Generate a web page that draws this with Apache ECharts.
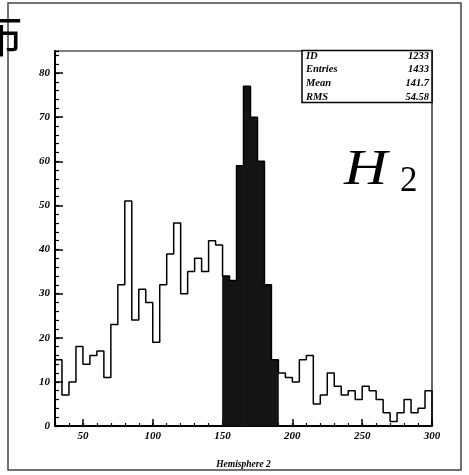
<!DOCTYPE html>
<html>
<head>
<meta charset="utf-8">
<script src="https://cdn.jsdelivr.net/npm/echarts@6/dist/echarts.min.js"></script>
<style>
html,body{margin:0;padding:0;background:#fff;}
#chart{width:469px;height:475px;}
</style>
</head>
<body>
<div id="chart"></div>
<script>
// ---- data ----
var binLow = 30;
var binWidth = 5;
var counts = [15, 7, 10, 18, 14, 16, 17, 11, 23, 32,
              51, 24, 31, 28, 19, 32, 39, 46, 30, 35,
              38, 35, 42, 41, 34, 33, 59, 77, 70, 60,
              32, 15, 12, 11, 10, 15, 16, 5, 7, 12,
              9, 7, 8, 6, 9, 8, 6, 3, 1, 3,
              6, 3, 4, 8];
var filledFrom = 150;
var filledTo = 190;
var xTickLabels = [50, 100, 150, 200, 250, 300];
var yTickLabels = [0, 10, 20, 30, 40, 50, 60, 70, 80];
var statNames = ['ID', 'Entries', 'Mean', 'RMS'];
var statValues = ['1233', '1433', '141.7', '54.58'];
var xTitle = 'Hemisphere 2';
var titleFragment = '布';

// ---- build ----
var edges = counts.map(function (c, i) { return binLow + i * binWidth; });
var xMax = binLow + counts.length * binWidth;
var outline = [[binLow, 0]];
counts.forEach(function (c, i) { outline.push([edges[i], c]); });
outline.push([xMax, counts[counts.length - 1]]);
outline.push([xMax, 0]);

var filledBins = [];
counts.forEach(function (c, i) {
  if (edges[i] >= filledFrom && edges[i] + binWidth <= filledTo) {
    filledBins.push([edges[i], edges[i] + binWidth, c]);
  }
});

var serif = '"Liberation Serif", "Times New Roman", serif';
var lblStyle = { fontFamily: serif, fontStyle: 'italic', fontWeight: 'bold', fontSize: 11, color: '#000' };

var GL = 55, GT = 51, GR = 432, GB = 427.5;

var chart = echarts.init(document.getElementById('chart'), null, { renderer: 'canvas' });

var statGraphics = [];
statGraphics.push({ type: 'rect', shape: { x: 302, y: 50.5, width: 130, height: 52 }, style: { fill: '#fff', stroke: '#000', lineWidth: 1.5 }, z: 10 });
statNames.forEach(function (n, i) {
  statGraphics.push({ type: 'text', x: 306, y: 56 + i * 13.7, z: 11,
    style: { text: n, fontFamily: serif, fontStyle: 'italic', fontWeight: 'bold', fontSize: 10.5, fill: '#000', verticalAlign: 'middle', align: 'left' } });
  statGraphics.push({ type: 'text', x: 429, y: 56 + i * 13.7, z: 11,
    style: { text: statValues[i], fontFamily: serif, fontStyle: 'italic', fontWeight: 'bold', fontSize: 10.5, fill: '#000', verticalAlign: 'middle', align: 'right' } });
});

var option = {
  animation: false,
  backgroundColor: '#fff',
  grid: { left: GL, top: GT, width: GR - GL, height: GB - GT, show: true, borderColor: '#000', borderWidth: 1.2, backgroundColor: 'transparent' },
  xAxis: [{
    type: 'value', min: binLow, max: xMax, gridIndex: 0,
    axisLine: { show: true, onZero: false, lineStyle: { color: '#000', width: 2 } },
    axisTick: { show: true, inside: true, length: 7, lineStyle: { color: '#000', width: 1.5 }, customValues: xTickLabels },
    axisLabel: Object.assign({ margin: 5, customValues: xTickLabels }, lblStyle),
    splitLine: { show: false },
    name: xTitle, nameLocation: 'middle', nameGap: 34,
    nameTextStyle: { fontFamily: serif, fontStyle: 'italic', fontWeight: 'bold', fontSize: 9.5, color: '#000' }
  }, {
    type: 'value', min: binLow, max: xMax, interval: 10, gridIndex: 0, position: 'bottom',
    axisLine: { show: false, onZero: false },
    axisTick: { show: true, inside: true, length: 3, lineStyle: { color: '#000', width: 1.2 } },
    axisLabel: { show: false }, splitLine: { show: false }
  }],
  yAxis: [{
    type: 'value', min: 0, max: 85, gridIndex: 0,
    axisLine: { show: true, onZero: false, lineStyle: { color: '#000', width: 2 } },
    axisTick: { show: true, inside: true, length: 8, lineStyle: { color: '#000', width: 1.5 }, customValues: yTickLabels },
    axisLabel: Object.assign({ margin: 5, customValues: yTickLabels }, lblStyle),
    splitLine: { show: false }
  }, {
    type: 'value', min: 0, max: 85, interval: 2, gridIndex: 0, position: 'left',
    axisLine: { show: false, onZero: false },
    axisTick: { show: true, inside: true, length: 4, lineStyle: { color: '#000', width: 1.2 } },
    axisLabel: { show: false }, splitLine: { show: false }
  }],
  series: [{
    type: 'custom', xAxisIndex: 0, yAxisIndex: 0, z: 2,
    data: filledBins,
    renderItem: function (params, api) {
      var p0 = api.coord([api.value(0), api.value(2)]);
      var p1 = api.coord([api.value(1), 0]);
      return { type: 'rect', shape: { x: p0[0] - 0.4, y: p0[1], width: p1[0] - p0[0] + 0.8, height: p1[1] - p0[1] }, style: { fill: '#141414' } };
    }
  }, {
    type: 'line', xAxisIndex: 0, yAxisIndex: 0, z: 3,
    step: 'end', data: outline, showSymbol: false, symbol: 'none',
    lineStyle: { color: '#000', width: 1.5 }, silent: true
  }],
  graphic: [
    { type: 'rect', shape: { x: 8, y: 3, width: 453, height: 467 }, style: { fill: 'none', stroke: '#444', lineWidth: 1.5 }, z: 0 },
    { type: 'text', x: -25, y: 10, style: { text: titleFragment, fontFamily: '"Noto Sans CJK SC"', fontSize: 48, fill: '#000', verticalAlign: 'top' }, z: 5 },
    { type: 'text', x: 344, y: 196, scaleX: 1.2, originX: 0, originY: 0, style: { text: 'H', fontFamily: serif, fontStyle: 'italic', fontSize: 50, fill: '#000', verticalAlign: 'bottom' }, z: 5 },
    { type: 'text', x: 400, y: 199, style: { text: '2', fontFamily: serif, fontSize: 35, fill: '#000', verticalAlign: 'bottom' }, z: 5 }
  ].concat(statGraphics)
};
chart.setOption(option);
</script>
</body>
</html>
